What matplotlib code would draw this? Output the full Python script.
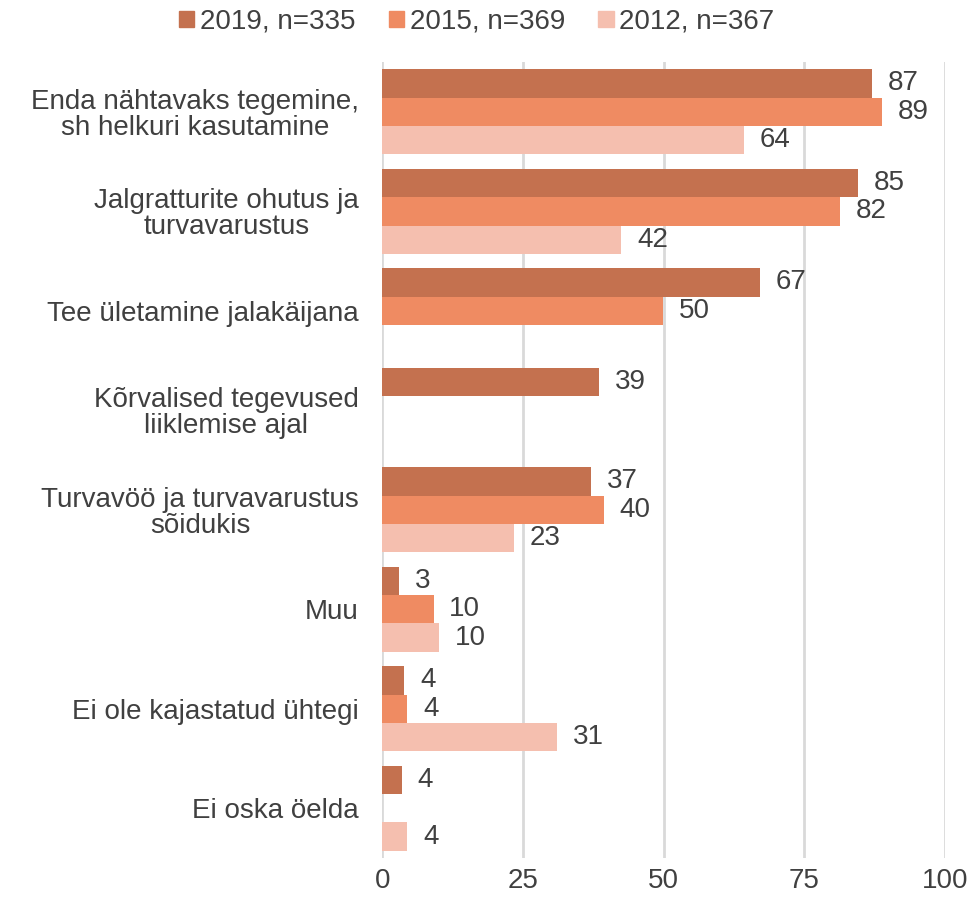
import numpy as np
import matplotlib.pyplot as plt
from matplotlib.patches import Patch

plt.rcParams['font.family'] = ['Liberation Sans', 'DejaVu Sans']

categories = ["Enda nähtavaks tegemine,\nsh helkuri kasutamine",
              "Jalgratturite ohutus ja\nturvavarustus",
              "Tee ületamine jalakäijana",
              "Kõrvalised tegevused\nliiklemise ajal",
              "Turvavöö ja turvavarustus\nsõidukis",
              "Muu",
              "Ei ole kajastatud ühtegi",
              "Ei oska öelda"]
series = ["2019, n=335", "2015, n=369", "2012, n=367"]
v2019 = [87.0, 84.5, 67.1, 38.5, 37.1, 3.0, 3.9, 3.5]
v2015 = [88.8, 81.3, 49.9, np.nan, 39.4, 9.1, 4.4, np.nan]
v2012 = [64.3, 42.5, np.nan, np.nan, 23.4, 10.1, 31.1, 4.4]
l2019 = ["87", "85", "67", "39", "37", "3", "4", "4"]
l2015 = ["89", "82", "50", "", "40", "10", "4", ""]
l2012 = ["64", "42", "", "", "23", "10", "31", "4"]
colors = ["#C4714F", "#EF8B62", "#F5BFAF"]
txt = "#404040"
fs = 20

fig = plt.figure(figsize=(9.73, 9.0), dpi=100)
ax = fig.add_axes([0.393, 0.0467, 0.578, 0.8843])

y = np.arange(len(categories))
h = 0.285
for i, (vals, labs) in enumerate(zip([v2019, v2015, v2012], [l2019, l2015, l2012])):
    pos = y + (i - 1) * h
    ax.barh(pos, vals, height=h, color=colors[i], zorder=3)
    for p, v, lab in zip(pos, vals, labs):
        if lab:
            ax.text(v + 2.8, p, lab, va='center', ha='left', fontsize=fs, color=txt)

ax.set_xlim(0, 100)
ax.set_ylim(len(categories) - 0.5, -0.5)
ax.set_xticks([0, 25, 50, 75, 100])
ax.set_yticks(y)
ax.set_yticklabels(categories, fontsize=fs, color=txt, multialignment='center',
                   linespacing=1.0)
ax.tick_params(axis='x', labelsize=fs, labelcolor=txt, length=0, pad=7)
ax.tick_params(axis='y', length=0, pad=17)
ax.grid(axis='x', color='#D9D9D9', linewidth=2, zorder=0)
for s in ax.spines.values():
    s.set_visible(False)

handles = [Patch(color=c, label=s) for c, s in zip(colors, series)]
fig.legend(handles=handles, loc='upper center', bbox_to_anchor=(0.49, 1.018), ncol=3,
           frameon=False, fontsize=fs, handlelength=0.55, handleheight=0.55,
           handletextpad=0.2, columnspacing=1.2, labelcolor=txt)

fig.savefig("out.png", dpi=100)
